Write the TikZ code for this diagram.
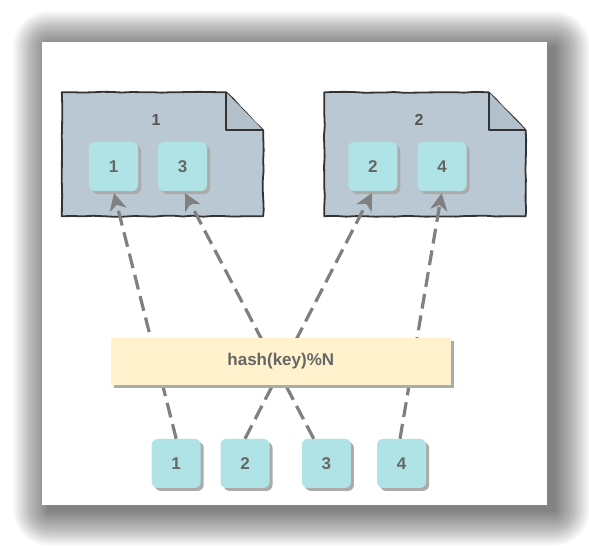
\documentclass[tikz,border=0pt]{standalone}
\usepackage{fontspec}
\setmainfont{Liberation Sans}
\usetikzlibrary{arrows.meta,shadows,decorations.pathmorphing}
\definecolor{itemfill}{HTML}{B0E3E6}
\definecolor{docfill}{HTML}{BAC8D3}
\definecolor{foldfill}{HTML}{B2C0CB}
\definecolor{hashfill}{HTML}{FFF2CC}
\definecolor{txtgray}{HTML}{666666}
\definecolor{labgray}{HTML}{555555}
\definecolor{linegray}{HTML}{808080}
\definecolor{edgedark}{HTML}{333333}
\definecolor{shade}{HTML}{ABABAB}
\definecolor{docshade}{HTML}{C4C4C4}
\tikzset{
  itembox/.style={rectangle, rounded corners=6pt, fill=itemfill, minimum width=49pt, minimum height=49pt, inner sep=0pt,
    font=\bfseries\fontsize{17}{20}\selectfont, text=txtgray,
    drop shadow={shadow xshift=3pt, shadow yshift=-3pt, fill=shade, opacity=1}},
  hashbox/.style={rectangle, fill=hashfill, minimum width=340pt, minimum height=47pt, inner sep=0pt,
    font=\bfseries\fontsize{17}{20}\selectfont, text=txtgray,
    drop shadow={shadow xshift=3pt, shadow yshift=-3pt, fill=shade, opacity=1}},
  docbox/.style={rectangle, minimum width=201pt, minimum height=123.5pt, inner sep=0pt},
  doclabel/.style={font=\bfseries\fontsize{16}{19}\selectfont, text=labgray, inner sep=0pt},
  sketchy/.style={decorate, decoration={random steps, segment length=10pt, amplitude=0.5pt}},
  docoutline/.style={draw=edgedark, line width=1.8pt, fill=docfill, line join=round},
  conn/.style={draw=linegray, line width=3.2pt, dash pattern=on 15pt off 7pt,
    -{Stealth[length=17pt, width=17pt, inset=5pt]}, shorten >=2pt}
}
\newcommand{\docshape}[1]{%
  \begin{scope}[xshift=3pt, yshift=-3pt]
  \fill[docshade] (#1.north west) -- ([xshift=-37pt]#1.north east) -- ([yshift=-38pt]#1.north east)
     -- (#1.south east) -- (#1.south west) -- cycle;
  \end{scope}
  \draw[docoutline, sketchy] (#1.north west) -- ([xshift=-37pt]#1.north east) -- ([yshift=-38pt]#1.north east)
     -- (#1.south east) -- (#1.south west) -- cycle;
  \draw[docoutline, fill=foldfill] ([xshift=-37pt]#1.north east) -- ([xshift=-37pt,yshift=-38pt]#1.north east)
     -- ([yshift=-38pt]#1.north east);
}
\begin{document}
\begin{tikzpicture}[x=1pt,y=-1pt]
\useasboundingbox (0,0) rectangle (589,547);
\fill[white] (0,0) rectangle (589,547);
\pgfmathsetseed{7}
% panel shadow
\foreach \i in {1,...,36} {
  \fill[black, opacity=0.017, rounded corners=\i pt] (49-\i,47-\i) rectangle (554+\i,510+\i);
}
\fill[white] (42,42) rectangle (547,505);
% documents
\node[docbox] (doc1) at (162.5,154.25) {};
\node[docbox] (doc2) at (425,154.25) {};
\docshape{doc1}
\docshape{doc2}
\node[doclabel] (lab1) at (156,120) {1};
\node[doclabel] (lab2) at (419,120) {2};
% items in documents
\node[itembox] (a1) at (113.5,166.5) {1};
\node[itembox] (a3) at (182.5,166.5) {3};
\node[itembox] (a2) at (372.8,166.5) {2};
\node[itembox] (a4) at (442,166.5) {4};
% bottom items
\node[itembox] (b1) at (176.2,463.4) {1};
\node[itembox] (b2) at (245,463.4) {2};
\node[itembox] (b3) at (326.4,463.4) {3};
\node[itembox] (b4) at (401.6,463.4) {4};
% connectors
\draw[conn] (b1.north) -- (a1.south);
\draw[conn] (b2.north) -- (a2.south);
\draw[conn] ([xshift=-12.7pt]b3.north) -- ([xshift=1.5pt]a3.south);
\draw[conn] ([xshift=-1.6pt]b4.north) -- (a4.south);
% hash box
\node[hashbox] (hash) at (280.8,361.3) {hash(key)\%N};
\end{tikzpicture}
\end{document}
